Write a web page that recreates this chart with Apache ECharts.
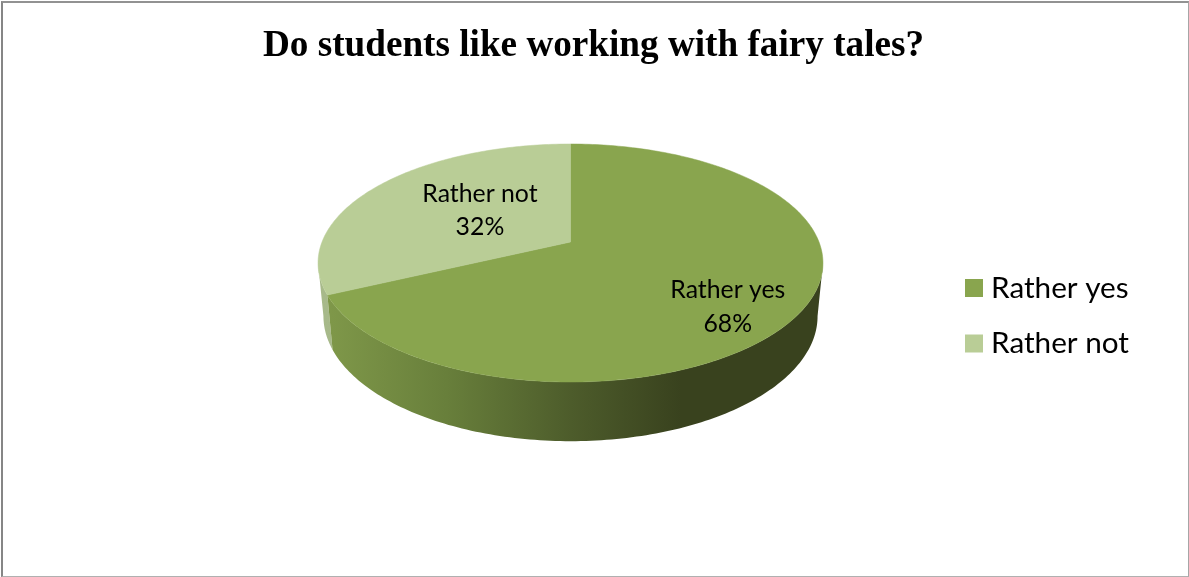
<!DOCTYPE html>
<html>
<head>
<meta charset="utf-8">
<title>Do students like working with fairy tales?</title>
<script src="https://cdn.jsdelivr.net/npm/echarts@6/dist/echarts.min.js"></script>
<style>
  html, body { margin: 0; padding: 0; background: #fff; }
  #chart { width: 1189px; height: 577px; }
  #frame {
    position: absolute; left: 1px; top: 1px; width: 1185px; height: 573px;
    border-style: solid; border-color: #929292 #a6a6a6 #b0b0b0 #868686;
    border-width: 2px 1px 1px 2px; box-sizing: content-box; pointer-events: none;
  }
</style>
</head>
<body>
<div id="chart"></div>
<div id="frame"></div>
<script>
// Survey answers, in percent
const categories = ['Rather yes', 'Rather not'];
const shares = [68, 32];

const topColors = ['#89a54e', '#b9cd96'];
const rimColors = [
  [[0, '#80994a'], [0.25, '#687f3b'], [0.5, '#4d5c2b'], [0.72, '#39421e'], [1, '#39421e']],
  [[0, '#a7b98a'], [1, '#8fa271']]
];

// Perspective discs: the far side is foreshortened, the near side enlarged
const k = 0.1765;
const upperDisc = { cx: 570.5, apexY: 242, a: 248.5, b: 115.3 };
const lowerDisc = { cx: 570.5, apexY: 294, a: 243.2, b: 121.2 };
const rimSpan = { from: 322, to: 820 };
const labelPlace = [
  { r: 0.7, dy: 18.5 },
  { r: 0.45, dy: -5 }
];

// Angle where the disc outline turns away from the viewer; only the front of the rim shows
const silhouette = Math.acos(-k) * 180 / Math.PI;

function project(thetaDeg, r, d) {
  const t = thetaDeg * Math.PI / 180;
  const u = r * Math.sin(t);
  const v = r * Math.cos(t);
  const w = 1 + k * v;
  return [d.cx + d.a * u / w, d.apexY - d.b * v / w];
}

function arc(from, to, d) {
  const n = Math.max(2, Math.ceil(Math.abs(to - from)));
  const pts = [];
  for (let i = 0; i <= n; i++) pts.push(project(from + (to - from) * i / n, 1, d));
  return pts;
}

const total = shares.reduce((a, b) => a + b, 0);

function sliceRange(index) {
  const before = shares.slice(0, index).reduce((a, b) => a + b, 0);
  return [before / total * 360, (before + shares[index]) / total * 360];
}

function renderRim(index) {
  const range = sliceRange(index);
  const from = Math.max(range[0], silhouette);
  const to = Math.min(range[1], 360 - silhouette);
  return {
    type: 'polygon',
    shape: { points: arc(from, to, upperDisc).concat(arc(to, from, lowerDisc)) },
    style: {
      fill: {
        type: 'linear', global: true,
        x: rimSpan.from, y: 0, x2: rimSpan.to, y2: 0,
        colorStops: rimColors[index].map(([offset, color]) => ({ offset, color }))
      }
    }
  };
}

function renderTop(index) {
  const [from, to] = sliceRange(index);
  const mid = (from + to) / 2;
  const place = labelPlace[index];
  const anchor = project(mid, place.r, upperDisc);
  return {
    type: 'group',
    children: [
      {
        type: 'polygon',
        shape: { points: [project(0, 0, upperDisc)].concat(arc(from, to, upperDisc)) },
        style: { fill: topColors[index], stroke: topColors[index], lineWidth: 0.5 }
      },
      {
        type: 'text',
        x: anchor[0],
        y: anchor[1] + place.dy,
        style: {
          text: categories[index] + '\n' + shares[index] + '%',
          fill: '#000',
          font: '24.8px Lato',
          lineHeight: 33.5,
          align: 'center',
          verticalAlign: 'middle'
        }
      }
    ]
  };
}

const chart = echarts.init(document.getElementById('chart'), null, { renderer: 'canvas' });

// Rims are drawn first, so the top faces sit above them
const rimSeries = [1, 0].map(i => ({
  type: 'custom',
  coordinateSystem: 'none',
  name: 'rim-' + i,
  silent: true,
  z: 1,
  data: [shares[i]],
  renderItem: () => renderRim(i)
}));
const topSeries = categories.map((name, i) => ({
  type: 'custom',
  coordinateSystem: 'none',
  name,
  silent: true,
  z: 2,
  itemStyle: { color: topColors[i] },
  data: [shares[i]],
  renderItem: () => renderTop(i)
}));

chart.setOption({
  animation: false,
  backgroundColor: '#fff',
  title: {
    text: 'Do students like working with fairy tales?',
    left: 588.5, top: 23, textAlign: 'center',
    textStyle: { fontFamily: 'Liberation Serif', fontWeight: 'bold', fontSize: 37.2, color: '#000' }
  },
  legend: {
    data: categories,
    orient: 'vertical',
    left: 960, top: 268,
    itemWidth: 18, itemHeight: 18, itemGap: 25.5,
    icon: 'rect',
    selectedMode: false,
    textStyle: { fontFamily: 'Lato', fontSize: 29.7, color: '#000', padding: [0, 0, 0, 3] }
  },
  series: rimSeries.concat(topSeries)
});
</script>
</body>
</html>
